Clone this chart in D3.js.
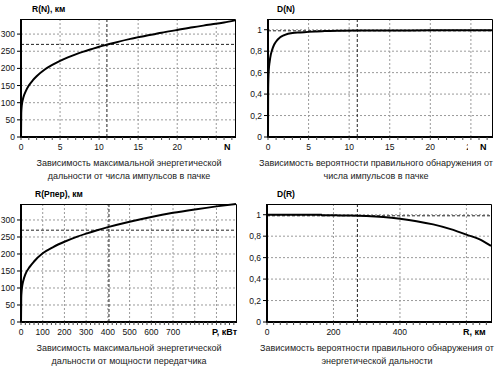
<!DOCTYPE html>
<html>
<head>
<meta charset="utf-8">
<script src="https://cdn.jsdelivr.net/npm/d3@7"></script>
<style>
  body { margin: 0; background: #fff; }
  svg { display: block; font-family: "Liberation Sans", Arial, sans-serif; }
</style>
</head>
<body>
<div id="chart"></div>
<script>
// --- data ---
// R(N): max energetic range vs number of pulses in a burst
const nValues = [0, 0.03, 0.08, 0.15, 0.3, 0.6, 1, 1.5, 2, 3, 4, 5, 6, 7, 8, 9, 10, 11, 12, 14, 16, 18, 20, 22, 24, 26, 27.4];
const rOfN    = [0, 70, 88, 100, 115, 133, 150, 165, 177, 196, 210, 222, 232, 241, 249, 256, 263, 269, 275, 286, 295, 304, 312, 320, 327, 334, 340];

// D(N): detection probability vs number of pulses
const nValues2 = [0, 0.02, 0.05, 0.1, 0.2, 0.35, 0.5, 0.75, 1, 1.5, 2, 3, 4, 5, 6, 7, 9, 11, 15, 20, 27.6];
const dOfN     = [0, 0.45, 0.55, 0.63, 0.7, 0.77, 0.81, 0.86, 0.89, 0.93, 0.95, 0.97, 0.975, 0.98, 0.984, 0.987, 0.99, 0.992, 0.993, 0.994, 0.995];

// R(Pпер): max energetic range vs transmitter power, kW
const pValues = [0, 1, 3, 6, 10, 20, 40, 60, 100, 150, 200, 250, 300, 350, 400, 500, 600, 700, 800, 900, 990];
const rOfP    = [0, 70, 92, 108, 120, 140, 162, 178, 202, 221, 236, 249, 260, 270, 279, 295, 309, 321, 331, 340, 347];

// D(R): detection probability vs range, km
const rangeValues = [0, 164, 165, 250, 300, 350, 400, 450, 500, 550, 600, 650, 674];
const dOfR        = [1.0, 1.0, 0.995, 0.993, 0.988, 0.978, 0.962, 0.94, 0.91, 0.868, 0.815, 0.755, 0.71];

// operating point marked with dark dashed lines
const selN = 11, selR = 270, selP = 405, selD = 0.99, selRange = 272;

// ticks (grid) and the tick labels that are drawn
const nTicks = [0, 5, 10, 15, 20, 25];
const nLabels1 = [0, 5, 10, 15, 20];
const nLabels2 = [0, 5, 10, 15, 20, 25];
const rTicks = [0, 50, 100, 150, 200, 250, 300];
const dTicks = [0, 0.2, 0.4, 0.6, 0.8, 1];
const dTickLabels = ["0", "0,2", "0,4", "0,6", "0,8", "1"];
const pTicks = [0, 100, 200, 300, 400, 500, 600, 700, 800, 900];
const pLabels = [0, 100, 200, 300, 400, 500, 600, 700];
const rangeTicks = [0, 200, 400, 600];

// --- layout ---
const svg = d3.select("#chart")
  .append("svg")
  .attr("width", 500)
  .attr("height", 373);

const panels = [
  {
    box: { left: 21, right: 235, top: 19, bottom: 137 },
    xDomain: [0, 27.4], yDomain: [0, 344],
    xs: nValues, ys: rOfN,
    xTicks: nTicks, xLabels: nLabels1, yTicks: rTicks, yLabels: rTicks.map(String),
    minorStep: 1,
    selX: selN, selY: selR,
    title: "R(N), км", titleX: 32,
    xLabel: "N", xLabelX: 224, clipX: 500,
    caption: ["Зависимость максимальной энергетической", "дальности от числа импульсов в пачке"], capX: 129
  },
  {
    box: { left: 268, right: 492, top: 19, bottom: 137 },
    xDomain: [0, 27.6], yDomain: [0, 1.1],
    xs: nValues2, ys: dOfN,
    xTicks: nTicks, xLabels: nLabels2, yTicks: dTicks, yLabels: dTickLabels,
    minorStep: 1,
    selX: selN, selY: selD,
    title: "D(N)", titleX: 277,
    xLabel: "N", xLabelX: 480, clipX: 468,
    caption: ["Зависимость вероятности правильного обнаружения от", "числа импульсов в пачке"], capX: 376
  },
  {
    box: { left: 21, right: 236, top: 204, bottom: 322 },
    xDomain: [0, 990], yDomain: [0, 347],
    xs: pValues, ys: rOfP,
    xTicks: pTicks, xLabels: pLabels, yTicks: rTicks, yLabels: rTicks.map(String),
    minorStep: 20,
    selX: selP, selY: selR,
    title: "R(Pпер), км", titleX: 35,
    xLabel: "P, кВт", xLabelX: 212, clipX: 500,
    caption: ["Зависимость максимальной энергетической", "дальности от мощности передатчика"], capX: 129
  },
  {
    box: { left: 267, right: 491, top: 204, bottom: 322 },
    xDomain: [0, 674], yDomain: [0, 1.1],
    xs: rangeValues, ys: dOfR,
    xTicks: rangeTicks, xLabels: rangeTicks, yTicks: dTicks, yLabels: dTickLabels,
    minorStep: 20,
    selX: selRange, selY: selD,
    title: "D(R)", titleX: 277,
    xLabel: "R, км", xLabelX: 463, clipX: 459,
    caption: ["Зависимость вероятности правильного обнаружения от", "энергетической дальности"], capX: 377
  }
];

panels.forEach(function (p, k) {
  const b = p.box;
  const x = d3.scaleLinear().domain(p.xDomain).range([b.left, b.right]);
  const y = d3.scaleLinear().domain(p.yDomain).range([b.bottom, b.top]);
  const g = svg.append("g");

  // the axis name hides the end of the last tick label
  svg.append("clipPath")
    .attr("id", "lab" + k)
    .append("rect")
    .attr("x", 0).attr("y", 0)
    .attr("width", p.clipX).attr("height", 373);

  // grid
  g.append("g")
    .selectAll("line")
    .data(p.xTicks.filter(d => d > 0))
    .enter()
    .append("line")
    .attr("x1", d => x(d)).attr("x2", d => x(d))
    .attr("y1", b.top).attr("y2", b.bottom)
    .attr("stroke", "#9a9a9a")
    .attr("stroke-dasharray", "2,2");
  g.append("g")
    .selectAll("line")
    .data(p.yTicks.filter(d => d > 0))
    .enter()
    .append("line")
    .attr("x1", b.left).attr("x2", b.right)
    .attr("y1", d => y(d)).attr("y2", d => y(d))
    .attr("stroke", "#9a9a9a")
    .attr("stroke-dasharray", "2,2");

  // operating point
  g.append("line")
    .attr("x1", x(p.selX)).attr("x2", x(p.selX))
    .attr("y1", b.top).attr("y2", b.bottom)
    .attr("stroke", "#222")
    .attr("stroke-dasharray", "3,2");
  g.append("line")
    .attr("x1", b.left).attr("x2", b.right)
    .attr("y1", y(p.selY)).attr("y2", y(p.selY))
    .attr("stroke", "#222")
    .attr("stroke-dasharray", "3,2");

  // frame: thin top/right, thick left/bottom
  g.append("path")
    .attr("d", `M${b.left},${b.top + 0.5}H${b.right + 0.5}V${b.bottom}`)
    .attr("fill", "none")
    .attr("stroke", "#000");
  g.append("path")
    .attr("d", `M${b.left},${b.top}V${b.bottom}H${b.right + 1}`)
    .attr("fill", "none")
    .attr("stroke", "#000")
    .attr("stroke-width", 2);

  // curve
  const line = d3.line()
    .x((d, i) => x(p.xs[i]))
    .y(d => y(d))
    .curve(d3.curveMonotoneX);
  g.append("path")
    .datum(p.ys)
    .attr("d", line)
    .attr("fill", "none")
    .attr("stroke", "#000")
    .attr("stroke-width", 2);

  // y ticks
  const yt = g.append("g").selectAll("g")
    .data(p.yTicks)
    .enter()
    .append("g");
  yt.append("line")
    .attr("x1", b.left - 4).attr("x2", b.left)
    .attr("y1", d => y(d)).attr("y2", d => y(d))
    .attr("stroke", "#000");
  yt.append("text")
    .attr("x", b.left - 6)
    .attr("y", d => y(d) + 3)
    .attr("text-anchor", "end")
    .attr("font-size", 8.5)
    .attr("fill", "#111")
    .text((d, i) => p.yLabels[i]);

  // x minor ticks + labels
  g.append("g")
    .selectAll("line")
    .data(d3.range(p.xDomain[0], p.xDomain[1], p.minorStep))
    .enter()
    .append("line")
    .attr("x1", d => x(d)).attr("x2", d => x(d))
    .attr("y1", b.bottom).attr("y2", b.bottom + 3)
    .attr("stroke", "#444");
  g.append("g")
    .attr("clip-path", `url(#lab${k})`)
    .selectAll("text")
    .data(p.xLabels)
    .enter()
    .append("text")
    .attr("x", d => x(d))
    .attr("y", b.bottom + 13)
    .attr("text-anchor", "middle")
    .attr("font-size", 8.5)
    .attr("fill", "#111")
    .text(d => d);

  g.append("text")
    .attr("x", p.xLabelX)
    .attr("y", b.bottom + 13)
    .attr("font-size", 9)
    .attr("font-weight", "bold")
    .text(p.xLabel);

  // title
  g.append("text")
    .attr("x", p.titleX)
    .attr("y", b.top - 7)
    .attr("font-size", 8.5)
    .attr("font-weight", "bold")
    .text(p.title);

  // caption
  g.append("g")
    .selectAll("text")
    .data(p.caption)
    .enter()
    .append("text")
    .attr("x", p.capX)
    .attr("y", (d, i) => b.bottom + 29 + i * 12.5)
    .attr("text-anchor", "middle")
    .attr("font-size", 9)
    .attr("fill", "#222")
    .text(d => d);
});
</script>
</body>
</html>
